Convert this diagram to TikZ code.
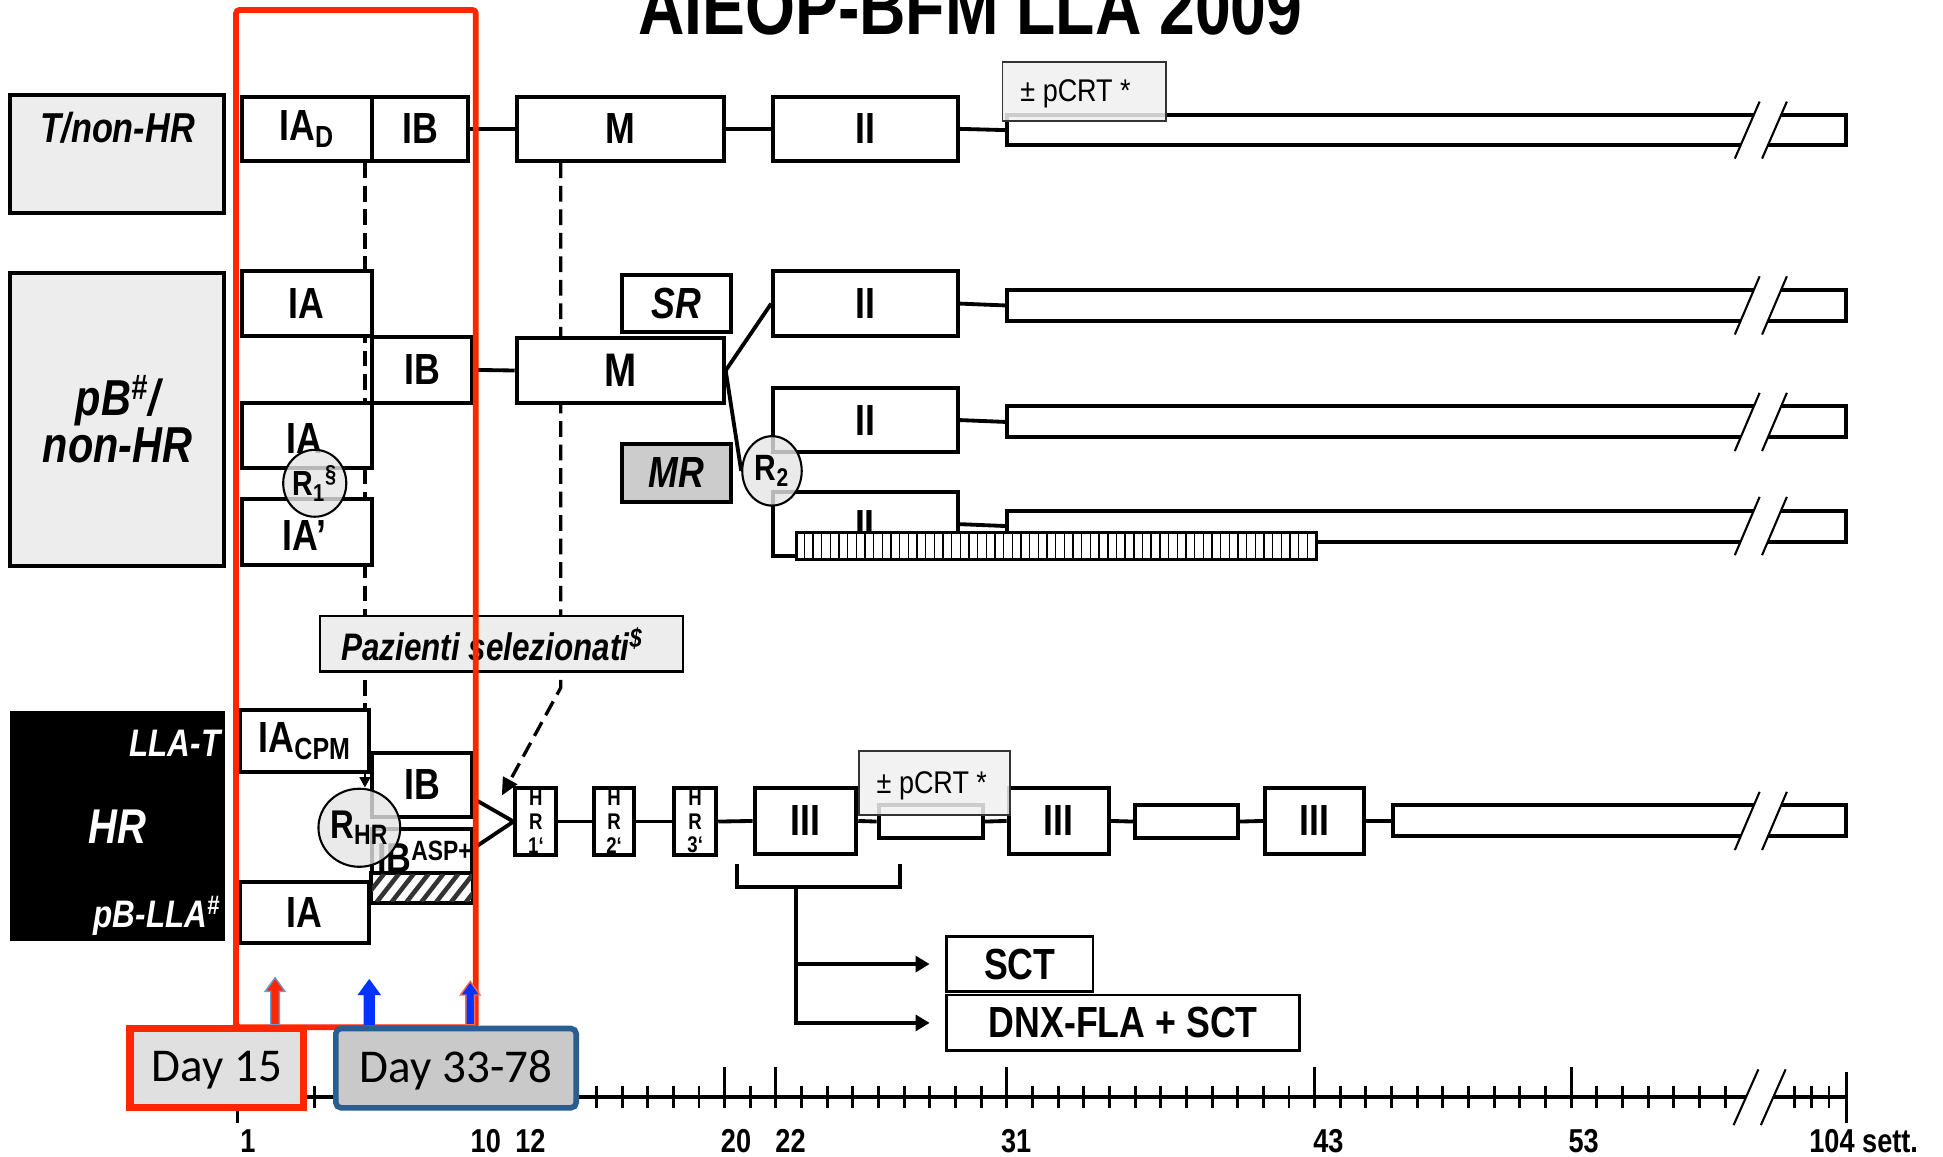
\documentclass[tikz,border=0pt]{standalone}
\usepackage{fontspec}
\setmainfont{Liberation Sans}[FakeStretch=0.82]
\newfontfamily\calibri{Carlito}
\newfontfamily\regsans{Liberation Sans}[FakeStretch=0.86]
\usetikzlibrary{fit,shapes.geometric,arrows.meta}
\definecolor{hired}{RGB}{255,38,0}
\definecolor{dayblue}{RGB}{42,94,145}
\definecolor{arrblue}{RGB}{0,51,255}
\definecolor{lblgray}{gray}{0.93}
\definecolor{pazgray}{gray}{0.93}
\definecolor{mrgray}{gray}{0.80}
\definecolor{ellgray}{gray}{0.90}
\definecolor{d15gray}{gray}{0.88}
\definecolor{d33gray}{gray}{0.79}
\definecolor{pcgray}{gray}{0.94}
\newcommand\fs[1]{\fontsize{#1}{#1}\selectfont}
\newcommand\brk[3]{%
  \fill[white] (#1,#3+11) -- (#1+20,#2-11) -- (#1+42,#2-11) -- (#1+22,#3+11) -- cycle;
  \draw[line width=1.2pt] (#1,#3+11) -- (#1+20,#2-11) (#1+22,#3+11) -- (#1+42,#2-11);}
\newcommand\uparr[7]{%
  \path[#7] (#1-#5,#4) -- (#1-#5,#3) -- (#1-#6,#3) -- (#1,#2) -- (#1+#6,#3) -- (#1+#5,#3) -- (#1+#5,#4) -- cycle;}
\begin{document}
\begin{tikzpicture}[x=0.025cm,y=-0.025cm,
  box/.style={draw, line width=2.3pt, fill=white, inner sep=0pt},
  bt/.style={inner sep=0pt, font=\bfseries\fs{25}},
  bti/.style={inner sep=0pt, font=\bfseries\itshape\fs{25}},
  lbl/.style={draw, line width=2.3pt, fill=lblgray, inner sep=0pt},
  barbox/.style={draw, line width=2.3pt, fill=white, inner sep=0pt},
  conn/.style={line width=2.2pt},
  dsh/.style={line width=1.9pt, dash pattern=on 9pt off 4.5pt},
  rell/.style={ellipse, draw, line width=1.2pt, fill=ellgray, fill opacity=0.8, text opacity=1, inner sep=0pt},
  pcrt/.style={draw=black!80, line width=1.1pt, fill=pcgray, fill opacity=0.85, inner sep=0pt},
  pct/.style={inner sep=0pt, font=\regsans\fs{18}},
  tk/.style={line width=1.7pt},
  axl/.style={font=\bfseries\fs{19}, inner sep=0pt},
  hrt/.style={inner sep=0pt, align=center, font=\bfseries\fontsize{13}{13.6}\selectfont},
]
\useasboundingbox (0,0) rectangle (1568,933);
\fill[white] (0,0) rectangle (1568,933);

% title
\node[font=\bfseries\fs{45}, anchor=base, inner sep=0pt] (title) at (783,27.5) {AIEOP-BFM LLA 2009};

% dashed guide lines (behind boxes)
\coordinate (d1top) at (294.5,131);
\coordinate (d1bot) at (294.5,573);
\coordinate (d2top) at (452.5,131);
\coordinate (d2bend) at (452.5,555);
\coordinate (d2tip) at (405,642);
\draw[dsh] (d1top) -- (d1bot);
\draw[dsh, -{Triangle[length=10pt,width=9pt]}] (d2top) -- (d2bend) -- (d2tip);

% ---------------- row 1 : T/non-HR
\node[lbl, fit={(8,77)(181,172)}] (tnhr) {};
\node[font=\bfseries\itshape\fs{24}, inner sep=0pt] (tnhrt) at (95,103) {T/non-HR};
\node[box, fit={(195,78)(300,130)}] (iad) {};
\node[bt] (iad-t) at (iad) {IA\textsubscript{D}};
\node[box, fit={(300,78)(378,130)}] (ib1) {};
\node[bt] (ib1-t) at (ib1) {IB};
\node[box, fit={(417,78)(584,130)}] (m1) {};
\node[bt] (m1-t) at (m1) {M};
\node[box, fit={(624,78)(773,130)}] (ii1) {};
\node[bt] (ii1-t) at (ii1) {II};
\node[barbox, fit={(813,93)(1490,117)}] (bar1) {};
\draw[conn] (ib1.east) -- (m1.west);
\draw[conn] (m1.east) -- (ii1.west);
\draw[conn] (ii1.east) -- (bar1.west);
\brk{1400}{93}{117}
\node[pcrt, fit={(809,50)(941,98)}] (pc1) {};
\node[pct] (pc1-t) at (868,76) {± pCRT *};

% ---------------- row 2 : pB/non-HR
\node[lbl, fit={(8,220)(181,457)}] (pbnhr) {};
\node[font=\bfseries\itshape\fontsize{29}{25.6}\selectfont, align=center, inner sep=0pt] (pbnhrt) at (95,338) {pB\textsuperscript{\#}/\\non-HR};
\node[box, fit={(195,219)(300,271)}] (ia1) {};
\node[bt] (ia1-t) at (ia1) {IA};
\node[box, fit={(300,272)(381,325)}] (ib2) {};
\node[bt] (ib2-t) at (ib2) {IB};
\node[box, fit={(195,325)(300,378)}] (ia2) {};
\node[bt] (ia2-t) at (246,354) {IA};
\node[box, fit={(195,403)(300,456)}] (ia3) {};
\node[bt] (ia3-t) at (246,432) {IA’};
\node[rell, minimum width=1.15cm, minimum height=1.35cm, font=\bfseries\fs{20}] (r1) at (254,390) {R\textsubscript{1}\textsuperscript{§}};
\node[box, fit={(417,273)(584,325)}] (m2) {};
\node[bt, font=\bfseries\fs{27}] (m2-t) at (m2) {M};
\node[box, fit={(502,222)(590,268)}] (sr) {};
\node[bti] (sr-t) at (sr) {SR};
\node[box, fill=mrgray, fit={(502,358)(590,405)}] (mr) {};
\node[bti] (mr-t) at (mr) {MR};
\draw[conn] (ib2.east) -- (m2.west);

\node[box, fit={(624,219)(773,271)}] (iisr) {};
\node[bt] (iisr-t) at (iisr) {II};
\node[barbox, fit={(813,234)(1490,259)}] (barsr) {};
\node[box, fit={(624,313)(773,365)}] (ii2) {};
\node[bt] (ii2-t) at (ii2) {II};
\node[barbox, fit={(813,328)(1490,353)}] (bar2) {};
\node[box, fit={(624,397)(773,449)}] (ii3) {};
\node[bt] (ii3-t) at (698,424) {II};
\node[barbox, fit={(813,412)(1490,437)}] (bar3) {};
\draw[conn] (iisr.east) -- (barsr.west);
\draw[conn] (ii2.east) -- (bar2.west);
\draw[conn] (ii3.east) -- (bar3.west);
\brk{1400}{234}{259}
\brk{1400}{328}{353}
\brk{1400}{412}{437}

% vertical-striped bar
\node[draw, line width=1.1pt, fill=white, inner sep=0pt, fit={(643,430)(1062,451)}] (hatch) {};
\begin{scope}
  \clip (643,430) rectangle (1062,451);
  \foreach \x in {649,656,...,1060} \draw[line width=0.8pt] (\x,430) -- (\x,451);
\end{scope}
\draw[line width=1.1pt] (hatch.north west) rectangle (hatch.south east);

\node[rell, minimum width=1.2cm, minimum height=1.4cm, font=\bfseries\fs{21}] (r2) at (623,380) {R\textsubscript{2}};
\draw[conn] (m2.east) -- (iisr.west);
\draw[conn] (m2.east) -- (r2.west);

% ---------------- Pazienti selezionati
\node[draw, line width=1.3pt, fill=pazgray, inner sep=0pt, fit={(258,497)(551,542)}] (paz) {};
\node[inner sep=0pt, font=\bfseries\itshape\fs{22}] (paz-t) at (397,520) {Pazienti selezionati\textsuperscript{\$}};

% ---------------- HR row
\node[fill=black, draw=black, inner sep=0pt, fit={(8,574)(181,759)}] (hrl) {};
\node[text=white, font=\bfseries\itshape\fs{22}, anchor=east, inner sep=0pt] (llat) at (178,600) {LLA-T};
\node[text=white, font=\bfseries\itshape\fs{28}, inner sep=0pt] (hrlt) at (95,667) {HR};
\node[text=white, font=\bfseries\itshape\fs{22}, anchor=east, inner sep=0pt] (pbll) at (178,739) {pB-LLA\textsuperscript{\#}};

\node[box, fit={(194,573)(298,623)}] (iacpm) {};
\node[bt] (iacpm-t) at (246,598) {IA\textsubscript{CPM}};
\node[box, fit={(300,608)(381,659)}] (ib3) {};
\node[bt] (ib3-t) at (ib3) {IB};
\node[box, fit={(300,669)(381,705)}] (ibasp) {};
\node[anchor=base east, inner sep=0pt] (ibasptxt) at (381,704) {{\bfseries\fs{24}IB}\raisebox{7pt}{\bfseries\fs{16}ASP+}};
\node[draw, line width=1.6pt, fill=white, inner sep=0pt, fit={(300,705)(381,728)}] (asph) {};
\begin{scope}
  \clip (300,705) rectangle (381,728);
  \foreach \x in {280,292,...,400} \draw[line width=2.6pt, black!80] (\x,728) -- (\x+18,705);
\end{scope}
\draw[line width=1.6pt] (asph.north west) rectangle (asph.south east);
\node[box, fit={(194,712)(298,761)}] (ia4) {};
\node[bt] (ia4-t) at (ia4) {IA};
\node[rell, minimum width=1.4cm, minimum height=1.575cm, font=\bfseries\fs{23}] (rhr) at (290,668) {R\textsubscript{HR}};
\draw[line width=1.5pt, -{Triangle[length=6pt,width=6pt]}] (iacpm.south -| d1top) -- (rhr.north -| d1top);

\node[box, fit={(416,636)(449,690)}] (hr1) {};
\node[hrt] (hr1-t) at (hr1) {H\\R\\1‘};
\node[box, fit={(479,636)(512,690)}] (hr2) {};
\node[hrt] (hr2-t) at (hr2) {H\\R\\2‘};
\node[box, fit={(544,636)(578,690)}] (hr3) {};
\node[hrt] (hr3-t) at (hr3) {H\\R\\3‘};
\draw[conn] (383,645) -- (hr1.west) -- (383,684);
\node[box, fit={(609,636)(691,689)}] (iii1) {};
\node[bt] (iii1-t) at (iii1) {III};
\node[box, fit={(709,650)(793,676)}] (sm1) {};
\node[box, fit={(814,636)(895,689)}] (iii2) {};
\node[bt] (iii2-t) at (iii2) {III};
\node[box, fit={(916,650)(999,676)}] (sm2) {};
\node[box, fit={(1021,636)(1101,689)}] (iii3) {};
\node[bt] (iii3-t) at (iii3) {III};
\node[barbox, fit={(1124,650)(1490,675)}] (barhr) {};
\draw[conn] (hr1.east) -- (hr2.west);
\draw[conn] (hr2.east) -- (hr3.west);
\draw[conn] (hr3.east) -- (iii1.west);
\draw[conn] (iii1.east) -- (sm1.west);
\draw[conn] (sm1.east) -- (iii2.west);
\draw[conn] (iii2.east) -- (sm2.west);
\draw[conn] (sm2.east) -- (iii3.west);
\draw[conn] (iii3.east) -- (barhr.west);
\brk{1400}{650}{675}
\node[pcrt, fit={(693,606)(815,658)}] (pc2) {};
\node[pct] (pc2-t) at (752,634) {± pCRT *};

% bracket and SCT
\node[box, line width=1.6pt, fit={(764,756)(882,800)}] (sct) {};
\node[bt] (sct-t) at (sct) {SCT};
\node[box, line width=1.6pt, fit={(764,803)(1049,848)}] (dnx) {};
\node[bt] (dnx-t) at (dnx) {DNX-FLA + SCT};
\coordinate (brl) at (595,697);
\coordinate (brr) at (726,697);
\coordinate (brm) at (642.5,716);
\draw[conn] (brl) -- (595,716) -- (726,716) -- (brr);
\draw[conn, -{Triangle[length=8pt,width=9pt]}, shorten >=9pt] (brm) |- (sct.west);
\draw[conn, -{Triangle[length=8pt,width=9pt]}, shorten >=9pt] (brm) |- (dnx.west);

% ---------------- time axis
\draw[line width=2.2pt] (191.5,885) -- (1490,885);
\foreach \n in {2,...,59}{\pgfmathsetmacro\xx{191.5+(\n-1)*20.7}\draw[tk] (\xx,876) -- (\xx,894);}
\foreach \n in {20,22,31,43,53}{\pgfmathsetmacro\xx{191.5+(\n-1)*20.7}\draw[tk] (\xx,861) -- (\xx,894);}
\draw[tk] (191.5,861) -- (191.5,906);
\foreach \x in {1448,1462,1476} \draw[tk] (\x,876) -- (\x,894);
\draw[tk] (1490,865) -- (1490,906);
\brk{1399}{874}{897}
\node[axl] (w1) at (200,921) {1};
\node[axl] (w10) at (392,921) {10};
\node[axl] (w12) at (428,921) {12};
\node[axl] (w20) at (594,921) {20};
\node[axl] (w22) at (638,921) {22};
\node[axl] (w31) at (820,921) {31};
\node[axl] (w43) at (1072,921) {43};
\node[axl] (w53) at (1278,921) {53};
\node[axl] (w104) at (1504,921) {104 sett.};

% ---------------- highlight box, arrows, day labels
\node[draw=hired, line width=3.3pt, rounded corners=2pt, inner sep=0pt, fit={(190.5,8)(384,829)}] (hilite) {};
\uparr{222}{789}{800}{827}{3.5}{8}{fill=hired, draw=cyan!50!blue!60, line width=0.8pt}
\uparr{298}{790}{803}{827}{4.5}{9.5}{fill=arrblue}
\uparr{379.5}{792}{803}{827}{3.5}{8}{fill=arrblue, draw=hired!70, line width=0.8pt}
\node[draw=hired, line width=4.2pt, fill=d15gray, inner sep=0pt, fit={(105,830)(245,894)}] (d15) {};
\node[inner sep=0pt, font=\calibri\fs{27}] (d15-t) at (175,864) {Day 15};
\node[draw=dayblue, line width=3.2pt, rounded corners=3pt, fill=d33gray, inner sep=0pt, fit={(271,830)(465,894)}] (d33) {};
\node[inner sep=0pt, font=\calibri\fs{27}] (d33-t) at (368,864) {Day 33-78};
\end{tikzpicture}
\end{document}
